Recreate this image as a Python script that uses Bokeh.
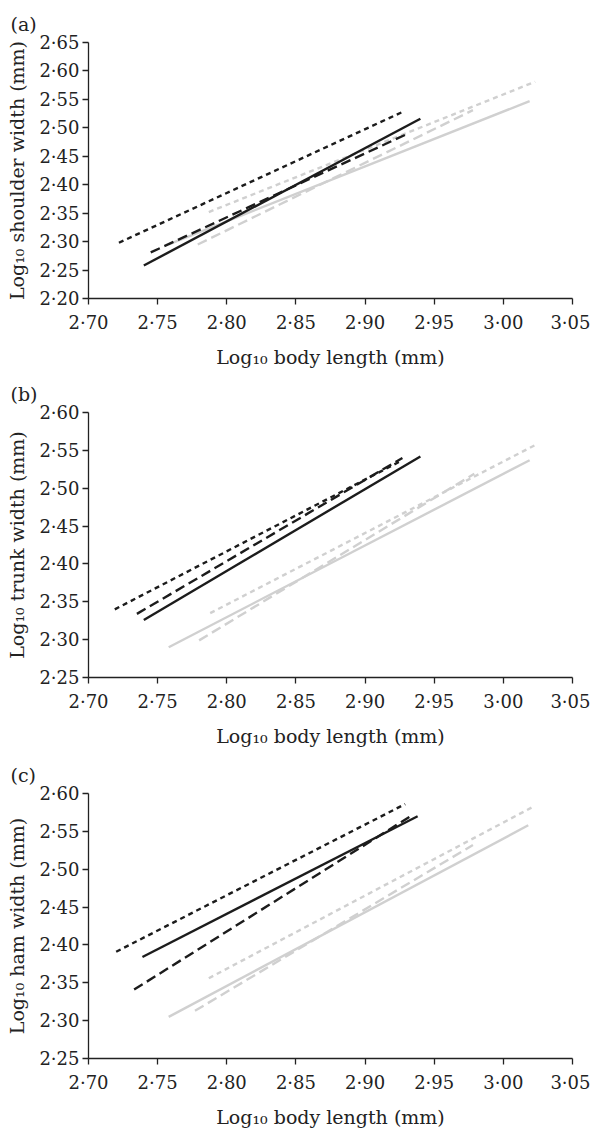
from bokeh.plotting import figure
from bokeh.layouts import column
from bokeh.models import FixedTicker, Range1d
from bokeh.embed import file_html
from bokeh.resources import INLINE

# ---------------- data ----------------
x_ticks = [2.70, 2.75, 2.80, 2.85, 2.90, 2.95, 3.00, 3.05]
x_tick_labels = ["2·70", "2·75", "2·80", "2·85", "2·90", "2·95", "3·00", "3·05"]

ya_ticks = [2.20, 2.25, 2.30, 2.35, 2.40, 2.45, 2.50, 2.55, 2.60, 2.65]
ya_tick_labels = ["2·20", "2·25", "2·30", "2·35", "2·40", "2·45", "2·50", "2·55", "2·60", "2·65"]

ybc_ticks = [2.25, 2.30, 2.35, 2.40, 2.45, 2.50, 2.55, 2.60]
ybc_tick_labels = ["2·25", "2·30", "2·35", "2·40", "2·45", "2·50", "2·55", "2·60"]

series = ["grey solid", "grey long dash", "grey short dash",
          "black solid", "black long dash", "black short dash"]

# panel (a): shoulder width
a_x0 = [2.758, 2.779, 2.787, 2.740, 2.745, 2.722]
a_x1 = [3.019, 2.978, 3.023, 2.940, 2.932, 2.928]
a_y0 = [2.295, 2.295, 2.352, 2.258, 2.281, 2.298]
a_y1 = [2.547, 2.531, 2.581, 2.516, 2.491, 2.529]

# panel (b): trunk width
b_x0 = [2.758, 2.780, 2.788, 2.740, 2.735, 2.719]
b_x1 = [3.019, 2.979, 3.023, 2.940, 2.927, 2.927]
b_y0 = [2.290, 2.299, 2.335, 2.326, 2.334, 2.340]
b_y1 = [2.537, 2.519, 2.557, 2.542, 2.540, 2.537]

# panel (c): ham width
c_x0 = [2.758, 2.777, 2.787, 2.739, 2.733, 2.720]
c_x1 = [3.018, 2.978, 3.021, 2.938, 2.932, 2.929]
c_y0 = [2.305, 2.313, 2.356, 2.384, 2.341, 2.391]
c_y1 = [2.558, 2.532, 2.582, 2.570, 2.569, 2.586]

# ---------------- styles ----------------
GREY = "#d0d0d0"
BLACK = "#1c1c1c"
styles = {
    "grey solid": (GREY, "solid"),
    "grey long dash": (GREY, "10 5"),
    "grey short dash": (GREY, "5 4"),
    "black solid": (BLACK, "solid"),
    "black long dash": (BLACK, "10 5"),
    "black short dash": (BLACK, "5 4"),
}
FONT = "DejaVu Serif"


def make_panel(tag, ylabel, yticks, ylabels, yrange, x0, x1, y0, y1, height, bottom):
    p = figure(width=590, height=height, output_backend="svg", toolbar_location=None,
               x_range=Range1d(2.70, 3.05), y_range=Range1d(*yrange),
               min_border_left=88, min_border_right=18, min_border_top=42,
               min_border_bottom=bottom, title=tag)
    p.outline_line_color = None
    p.xgrid.visible = False
    p.ygrid.visible = False
    p.background_fill_color = "white"
    p.border_fill_color = "white"

    p.title.align = "left"
    p.title.offset = -78
    p.title.text_font = FONT
    p.title.text_font_size = "19px"
    p.title.text_font_style = "normal"
    p.title.text_color = "#222222"
    p.title.standoff = 15

    for ax, ticks, labels, lab in ((p.xaxis[0], x_ticks, x_tick_labels, "Log₁₀ body length (mm)"),
                                   (p.yaxis[0], yticks, ylabels, ylabel)):
        ax.ticker = FixedTicker(ticks=ticks)
        ax.major_label_overrides = dict(zip(ticks, labels))
        ax.minor_tick_line_color = None
        ax.major_tick_in = 0
        ax.major_tick_out = 6
        ax.axis_line_color = "#222222"
        ax.axis_line_width = 1.3
        ax.major_tick_line_color = "#222222"
        ax.major_tick_line_width = 1.3
        ax.major_label_text_font = FONT
        ax.major_label_text_font_size = "18px"
        ax.major_label_text_color = "#222222"
        ax.axis_label = lab
        ax.axis_label_text_font = FONT
        ax.axis_label_text_font_size = "19px"
        ax.axis_label_text_font_style = "normal"
        ax.axis_label_text_color = "#222222"
    p.xaxis.major_label_standoff = 7
    p.xaxis.axis_label_standoff = 10
    p.yaxis.major_label_standoff = 3
    p.yaxis.axis_label_standoff = 8

    for name, xa, xb, ya, yb in zip(series, x0, x1, y0, y1):
        color, dash = styles[name]
        p.line(x=[xa, xb], y=[ya, yb], line_color=color, line_width=2.4,
               line_dash=dash, line_cap="butt")
    return p


pa = make_panel("(a)", "Log₁₀ shoulder width (mm)", ya_ticks, ya_tick_labels, (2.20, 2.65),
                a_x0, a_x1, a_y0, a_y1, 370, 64)
pb = make_panel("(b)", "Log₁₀ trunk width (mm)", ybc_ticks, ybc_tick_labels, (2.25, 2.60),
                b_x0, b_x1, b_y0, b_y1, 381, 74)
pc = make_panel("(c)", "Log₁₀ ham width (mm)", ybc_ticks, ybc_tick_labels, (2.25, 2.60),
                c_x0, c_x1, c_y0, c_y1, 380, 73)

layout = column(pa, pb, pc, spacing=0)
open("out.html", "w").write(file_html(layout, INLINE))
